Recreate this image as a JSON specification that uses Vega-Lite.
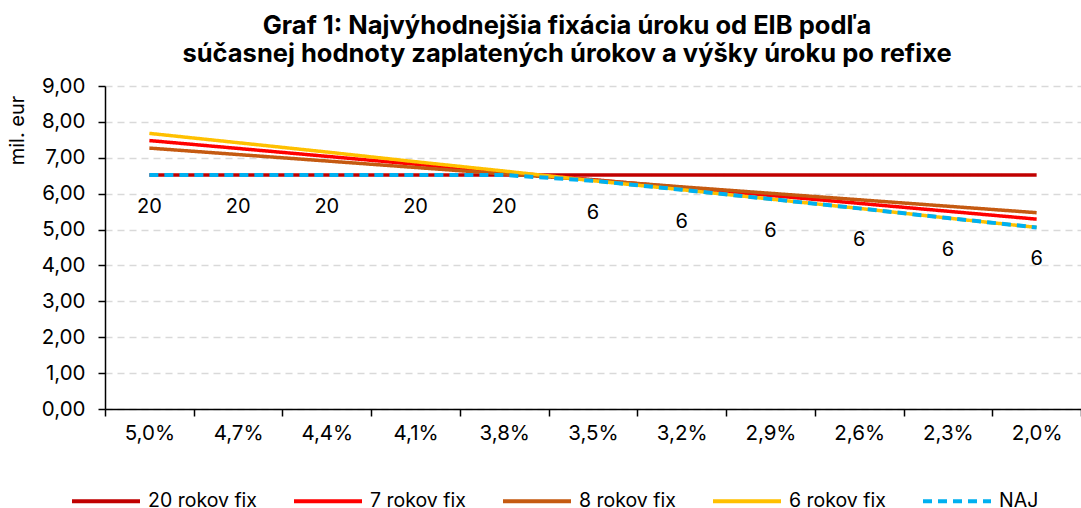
{
  "$schema": "https://vega.github.io/schema/vega-lite/v6.json",
  "width": 976,
  "height": 323,
  "autosize": {"type": "none"},
  "padding": {"left": 105, "top": 86, "right": 0, "bottom": 99},
  "background": "white",
  "title": {
    "text": ["Graf 1: Najvýhodnejšia fixácia úroku od EIB podľa", "súčasnej hodnoty zaplatených úrokov a výšky úroku po refixe"],
    "font": "Inter",
    "fontSize": 25.5,
    "fontWeight": "bold",
    "color": "#000000",
    "lineHeight": 28,
    "anchor": "middle",
    "dx": -26,
    "offset": 9
  },
  "datasets": {
    "fix": [
      {"rate": "5,0%", "series": "20 rokov fix", "value": 6.52},
      {"rate": "4,7%", "series": "20 rokov fix", "value": 6.52},
      {"rate": "4,4%", "series": "20 rokov fix", "value": 6.52},
      {"rate": "4,1%", "series": "20 rokov fix", "value": 6.52},
      {"rate": "3,8%", "series": "20 rokov fix", "value": 6.52},
      {"rate": "3,5%", "series": "20 rokov fix", "value": 6.52},
      {"rate": "3,2%", "series": "20 rokov fix", "value": 6.52},
      {"rate": "2,9%", "series": "20 rokov fix", "value": 6.52},
      {"rate": "2,6%", "series": "20 rokov fix", "value": 6.52},
      {"rate": "2,3%", "series": "20 rokov fix", "value": 6.52},
      {"rate": "2,0%", "series": "20 rokov fix", "value": 6.52},
      {"rate": "5,0%", "series": "7 rokov fix", "value": 7.48},
      {"rate": "4,7%", "series": "7 rokov fix", "value": 7.26},
      {"rate": "4,4%", "series": "7 rokov fix", "value": 7.04},
      {"rate": "4,1%", "series": "7 rokov fix", "value": 6.82},
      {"rate": "3,8%", "series": "7 rokov fix", "value": 6.6},
      {"rate": "3,5%", "series": "7 rokov fix", "value": 6.39},
      {"rate": "3,2%", "series": "7 rokov fix", "value": 6.17},
      {"rate": "2,9%", "series": "7 rokov fix", "value": 5.95},
      {"rate": "2,6%", "series": "7 rokov fix", "value": 5.73},
      {"rate": "2,3%", "series": "7 rokov fix", "value": 5.51},
      {"rate": "2,0%", "series": "7 rokov fix", "value": 5.29},
      {"rate": "5,0%", "series": "8 rokov fix", "value": 7.27},
      {"rate": "4,7%", "series": "8 rokov fix", "value": 7.09},
      {"rate": "4,4%", "series": "8 rokov fix", "value": 6.91},
      {"rate": "4,1%", "series": "8 rokov fix", "value": 6.73},
      {"rate": "3,8%", "series": "8 rokov fix", "value": 6.55},
      {"rate": "3,5%", "series": "8 rokov fix", "value": 6.38},
      {"rate": "3,2%", "series": "8 rokov fix", "value": 6.19},
      {"rate": "2,9%", "series": "8 rokov fix", "value": 6.01},
      {"rate": "2,6%", "series": "8 rokov fix", "value": 5.83},
      {"rate": "2,3%", "series": "8 rokov fix", "value": 5.65},
      {"rate": "2,0%", "series": "8 rokov fix", "value": 5.47},
      {"rate": "5,0%", "series": "6 rokov fix", "value": 7.68},
      {"rate": "4,7%", "series": "6 rokov fix", "value": 7.42},
      {"rate": "4,4%", "series": "6 rokov fix", "value": 7.16},
      {"rate": "4,1%", "series": "6 rokov fix", "value": 6.89},
      {"rate": "3,8%", "series": "6 rokov fix", "value": 6.63},
      {"rate": "3,5%", "series": "6 rokov fix", "value": 6.36},
      {"rate": "3,2%", "series": "6 rokov fix", "value": 6.11},
      {"rate": "2,9%", "series": "6 rokov fix", "value": 5.85},
      {"rate": "2,6%", "series": "6 rokov fix", "value": 5.59},
      {"rate": "2,3%", "series": "6 rokov fix", "value": 5.32},
      {"rate": "2,0%", "series": "6 rokov fix", "value": 5.06}
    ],
    "naj": [
      {"rate": "5,0%", "series": "NAJ", "value": 6.52, "label": "20"},
      {"rate": "4,7%", "series": "NAJ", "value": 6.52, "label": "20"},
      {"rate": "4,4%", "series": "NAJ", "value": 6.52, "label": "20"},
      {"rate": "4,1%", "series": "NAJ", "value": 6.52, "label": "20"},
      {"rate": "3,8%", "series": "NAJ", "value": 6.52, "label": "20"},
      {"rate": "3,5%", "series": "NAJ", "value": 6.36, "label": "6"},
      {"rate": "3,2%", "series": "NAJ", "value": 6.11, "label": "6"},
      {"rate": "2,9%", "series": "NAJ", "value": 5.85, "label": "6"},
      {"rate": "2,6%", "series": "NAJ", "value": 5.59, "label": "6"},
      {"rate": "2,3%", "series": "NAJ", "value": 5.32, "label": "6"},
      {"rate": "2,0%", "series": "NAJ", "value": 5.06, "label": "6"}
    ]
  },
  "encoding": {
    "x": {
      "field": "rate",
      "type": "nominal",
      "sort": ["5,0%", "4,7%", "4,4%", "4,1%", "3,8%", "3,5%", "3,2%", "2,9%", "2,6%", "2,3%", "2,0%"],
      "scale": {"type": "band", "paddingInner": 0, "paddingOuter": 0},
      "axis": {
        "title": null,
        "labelAngle": 0,
        "tickBand": "extent",
        "grid": false,
        "domainColor": "#000000",
        "domainWidth": 1.5,
        "tickColor": "#000000",
        "tickWidth": 1.5,
        "tickSize": 7,
        "labelFont": "Inter",
        "labelFontSize": 20.5,
        "labelColor": "#000000",
        "labelPadding": 7
      }
    },
    "y": {
      "field": "value",
      "type": "quantitative",
      "scale": {"domain": [0, 9], "nice": false, "zero": true},
      "axis": {
        "values": [0, 1, 2, 3, 4, 5, 6, 7, 8, 9],
        "labelExpr": "replace(format(datum.value, '.2f'), '.', ',')",
        "title": "mil. eur",
        "titleFont": "Inter",
        "titleFontSize": 20,
        "titleFontWeight": "normal",
        "titleColor": "#000000",
        "titleAngle": -90,
        "titleX": -88,
        "titleY": 44,
        "titleAlign": "center",
        "titleBaseline": "middle",
        "grid": true,
        "gridColor": "#d9d9d9",
        "gridWidth": 1.5,
        "gridDash": [7, 5],
        "domainColor": "#000000",
        "domainWidth": 1.5,
        "tickColor": "#000000",
        "tickWidth": 1.5,
        "tickSize": 7,
        "labelFont": "Inter",
        "labelFontSize": 20.5,
        "labelColor": "#000000",
        "labelPadding": 13
      }
    }
  },
  "layer": [
    {
      "data": {"name": "fix"},
      "mark": {"type": "line", "strokeWidth": 3.5, "strokeCap": "butt"},
      "encoding": {
        "color": {"field": "series", "type": "nominal", "scale": {"domain": ["20 rokov fix", "7 rokov fix", "8 rokov fix", "6 rokov fix", "NAJ"], "range": ["#c00000", "#ff0000", "#c55a11", "#ffc000", "#00b0f0"]}, "legend": {"title": null}},
        "strokeDash": {"field": "series", "type": "nominal", "scale": {"domain": ["20 rokov fix", "7 rokov fix", "8 rokov fix", "6 rokov fix", "NAJ"], "range": [[1, 0], [1, 0], [1, 0], [1, 0], [9, 6]]}, "legend": {"title": null}}
      }
    },
    {
      "data": {"name": "naj"},
      "mark": {"type": "line", "strokeWidth": 4, "strokeCap": "butt"},
      "encoding": {
        "color": {"field": "series", "type": "nominal"},
        "strokeDash": {"field": "series", "type": "nominal"}
      }
    },
    {
      "data": {"name": "naj"},
      "mark": {"type": "text", "font": "Inter", "fontSize": 20, "color": "#000000", "dy": 32, "baseline": "middle", "align": "center"},
      "encoding": {
        "text": {"field": "label", "type": "nominal"}
      }
    }
  ],
  "config": {
    "view": {"stroke": null},
    "legend": {
      "orient": "none",
      "legendX": -35,
      "legendY": 379,
      "direction": "horizontal",
      "columnPadding": 29,
      "labelOffset": 6,
      "labelFont": "Inter",
      "labelFontSize": 19.5,
      "labelColor": "#000000",
      "symbolType": "stroke",
      "symbolSize": 4624,
      "symbolStrokeWidth": 4,
      "symbolOpacity": 1
    }
  }
}
